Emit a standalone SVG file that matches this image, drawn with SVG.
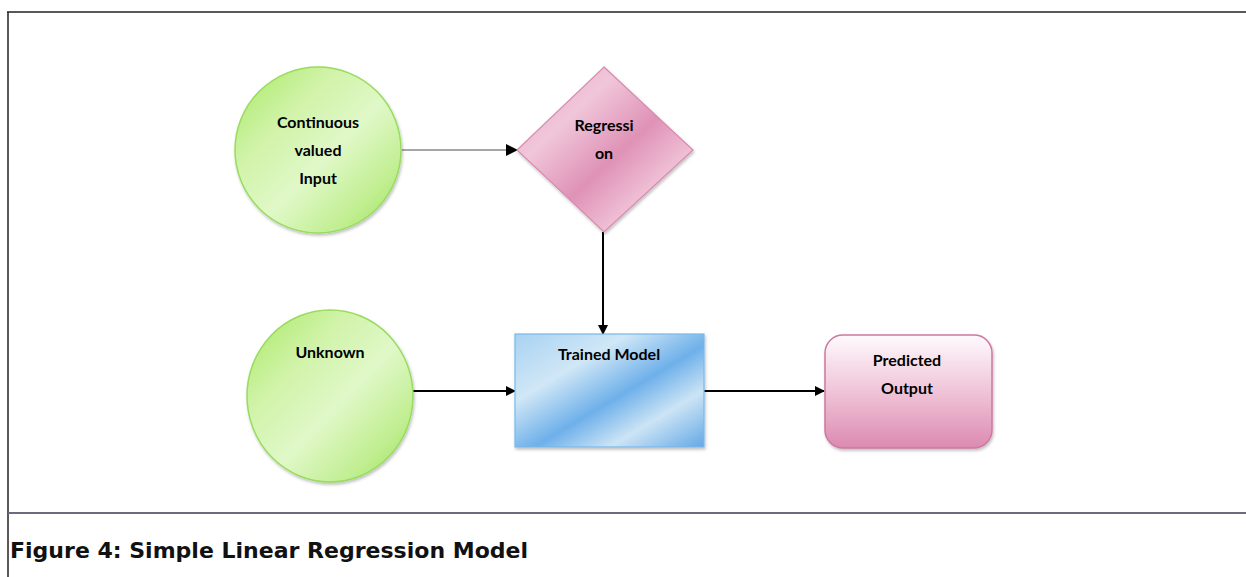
<svg xmlns="http://www.w3.org/2000/svg" width="1246" height="577" viewBox="0 0 1246 577">
  <defs>
    <linearGradient id="gGreen" x1="0" y1="0" x2="1" y2="1">
      <stop offset="0" stop-color="#a8e862"/>
      <stop offset="0.3" stop-color="#d0f3a8"/>
      <stop offset="0.55" stop-color="#e0f8c8"/>
      <stop offset="0.8" stop-color="#c0ee90"/>
      <stop offset="1" stop-color="#9ee058"/>
    </linearGradient>
    <linearGradient id="gPink" x1="0" y1="0" x2="1" y2="1">
      <stop offset="0" stop-color="#e8a6c4"/>
      <stop offset="0.3" stop-color="#f0c6da"/>
      <stop offset="0.55" stop-color="#df92b6"/>
      <stop offset="0.75" stop-color="#efc0d6"/>
      <stop offset="1" stop-color="#de8eb2"/>
    </linearGradient>
    <linearGradient id="gBlue" x1="0" y1="0" x2="1" y2="1">
      <stop offset="0" stop-color="#a8d2f2"/>
      <stop offset="0.3" stop-color="#d0e7f6"/>
      <stop offset="0.55" stop-color="#6eb0ea"/>
      <stop offset="0.75" stop-color="#cce4f5"/>
      <stop offset="1" stop-color="#64a8e6"/>
    </linearGradient>
    <linearGradient id="gRose" x1="0" y1="0" x2="0" y2="1">
      <stop offset="0" stop-color="#fefafc"/>
      <stop offset="0.5" stop-color="#f0c4d8"/>
      <stop offset="1" stop-color="#dc8ab0"/>
    </linearGradient>
    <filter id="shadow" x="-10%" y="-10%" width="125%" height="125%">
      <feDropShadow dx="1" dy="2" stdDeviation="1.5" flood-color="#000" flood-opacity="0.25"/>
    </filter>
    <marker id="arrow" markerWidth="10" markerHeight="10" refX="9" refY="5" orient="auto" markerUnits="userSpaceOnUse">
      <path d="M0,0 L10,5 L0,10 Z" fill="#000"/>
    </marker>
    <marker id="arrowSm" markerWidth="12" markerHeight="12" refX="11" refY="6" orient="auto" markerUnits="userSpaceOnUse">
      <path d="M0,0 L12,6 L0,12 Z" fill="#000"/>
    </marker>
  </defs>
  <style>
    .label { font-family: Lato, "Open Sans", "Liberation Sans", sans-serif; font-weight: bold; font-size: 16px; fill: #000; text-anchor: middle; }
    .caption { font-family: "DejaVu Sans Condensed", "DejaVu Sans", "Liberation Sans", sans-serif; font-stretch: condensed; font-weight: bold; font-size: 22px; fill: #111; }
    .conn { fill: none; stroke: #000; stroke-width: 2; }
    .thin { fill: none; stroke: #4a4f52; stroke-width: 1.2; }
  </style>

  <rect x="0" y="0" width="1246" height="577" fill="#fff"/>

  <!-- frame -->
  <g id="frame">
    <line x1="7" y1="12" x2="1246" y2="12" stroke="#222" stroke-width="1.5"/>
    <line x1="8" y1="12" x2="8" y2="577" stroke="#222" stroke-width="1.5"/>
    <line x1="8" y1="513" x2="1246" y2="513" stroke="#6e6a7c" stroke-width="2"/>
  </g>

  <!-- connectors -->
  <g id="connectors">
    <line class="thin" x1="402" y1="150" x2="517" y2="150" marker-end="url(#arrowSm)"/>
    <line class="conn" x1="603" y1="232" x2="603" y2="334" marker-end="url(#arrow)"/>
    <line class="conn" x1="413" y1="391" x2="515" y2="391" marker-end="url(#arrow)"/>
    <line class="conn" x1="704" y1="391" x2="824" y2="391" marker-end="url(#arrow)"/>
  </g>

  <!-- nodes -->
  <g id="node-input">
    <circle cx="318" cy="150" r="83" fill="url(#gGreen)" stroke="#98dc5e" stroke-width="1.5" filter="url(#shadow)"/>
    <text class="label" x="318" y="128">Continuous</text>
    <text class="label" x="318" y="156">valued</text>
    <text class="label" x="318" y="184">Input</text>
  </g>

  <g id="node-regression">
    <polygon points="604,67 693,150 604,232 517,150" fill="url(#gPink)" stroke="#d88aae" stroke-width="1.2" filter="url(#shadow)"/>
    <text class="label" x="604" y="131">Regressi</text>
    <text class="label" x="604" y="159">on</text>
  </g>

  <g id="node-unknown">
    <ellipse cx="330" cy="396" rx="83" ry="86" fill="url(#gGreen)" stroke="#98dc5e" stroke-width="1.5" filter="url(#shadow)"/>
    <text class="label" x="330" y="358">Unknown</text>
  </g>

  <g id="node-trained">
    <rect x="515" y="334" width="189" height="113" fill="url(#gBlue)" stroke="#7ab8ea" stroke-width="1.2" filter="url(#shadow)"/>
    <text class="label" x="609" y="360">Trained Model</text>
  </g>

  <g id="node-output">
    <rect x="825" y="335" width="167" height="113" rx="18" ry="18" fill="url(#gRose)" stroke="#cc78a0" stroke-width="1.5" filter="url(#shadow)"/>
    <text class="label" x="907" y="366">Predicted</text>
    <text class="label" x="907" y="394">Output</text>
  </g>

  <g id="caption">
    <text class="caption" x="10" y="558" textLength="518" lengthAdjust="spacingAndGlyphs">Figure 4: Simple Linear Regression Model</text>
  </g>
</svg>
